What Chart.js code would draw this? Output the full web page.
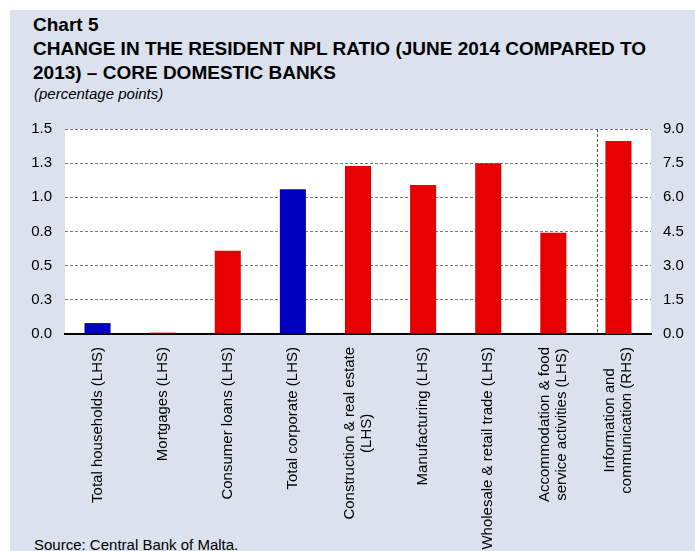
<!DOCTYPE html>
<html lang="en">
<head>
	<meta charset="UTF-8">
	<title>Chart 5 - Change in the resident NPL ratio</title>
	<style>
		body { margin: 0; background: #fff; font-family: "Liberation Sans", Arial, sans-serif; color: #000; }
		#panel { position: absolute; left: 10px; top: 10px; width: 685px; height: 541px; background: #dbe2ee; }
		.title { position: absolute; left: 33px; top: 13px; font-size: 19px; font-weight: bold; line-height: 24px; white-space: nowrap; }
		.subtitle { position: absolute; left: 34px; top: 85px; font-size: 15px; font-style: italic; line-height: 18px; }
		.source { position: absolute; left: 34px; top: 536px; font-size: 15px; line-height: 18px; white-space: nowrap; }
		#myChart { position: absolute; left: 0; top: 0; }
	</style>
</head>
<body>
	<div id="panel"></div>
	<div class="title">Chart 5<br>CHANGE IN THE RESIDENT NPL RATIO (JUNE 2014 COMPARED TO<br>2013) &ndash; CORE DOMESTIC BANKS</div>
	<div class="subtitle">(percentage points)</div>
	<div class="source">Source: Central Bank of Malta.</div>

	<canvas id="myChart" width="695" height="551"></canvas>

	<script src="https://cdn.jsdelivr.net/npm/chart.js"></script>
	<script>
		// ---------------- data ----------------
		const categories = [
			['Total households (LHS)'],
			['Mortgages (LHS)'],
			['Consumer loans (LHS)'],
			['Total corporate (LHS)'],
			['Construction & real estate', '(LHS)'],
			['Manufacturing (LHS)'],
			['Wholesale & retail trade (LHS)'],
			['Accommodation & food', 'service activities (LHS)'],
			['Information and', 'communication (RHS)']
		];
		// left hand scale series
		const lhsValues = [0.08, 0.01, 0.61, 1.06, 1.23, 1.09, 1.25, 0.74, null];
		// right hand scale series (only the last category)
		const rhsValues = [null, null, null, null, null, null, null, null, 8.47];

		const lhsTickLabels = ['0.0', '0.3', '0.5', '0.8', '1.0', '1.3', '1.5'];
		const rhsTickLabels = ['0.0', '1.5', '3.0', '4.5', '6.0', '7.5', '9.0'];

		// ---------------- styles ----------------
		const RED = '#e60000';
		const BLUE = '#0000c0';
		const barColors = [BLUE, RED, RED, BLUE, RED, RED, RED, RED, RED];
		const FONT = '"Liberation Sans", Arial, sans-serif';
		const dividerAt = 7.67; // dashed separator between LHS and RHS bars (category units)

		// white plot background
		const plotBg = {
			id: 'plotBg',
			beforeDraw(chart) {
				const { ctx, chartArea: a } = chart;
				ctx.save();
				ctx.fillStyle = '#fff';
				ctx.fillRect(a.left, a.top, a.right - a.left, a.bottom - a.top);
				ctx.restore();
			}
		};

		// vertical dashed separator
		const divider = {
			id: 'divider',
			beforeDatasetsDraw(chart) {
				const { ctx, chartArea: a } = chart;
				const x = Math.round(chart.scales.x.getPixelForValue(dividerAt)) + 0.5;
				ctx.save();
				ctx.strokeStyle = '#555';
				ctx.lineWidth = 1;
				ctx.setLineDash([3, 2]);
				ctx.beginPath();
				ctx.moveTo(x, a.top);
				ctx.lineTo(x, a.bottom);
				ctx.stroke();
				ctx.restore();
			}
		};

		// rotated category labels, lines centred on each other
		const xLabels = {
			id: 'xLabels',
			afterDraw(chart) {
				const { ctx, chartArea: a } = chart;
				const xs = chart.scales.x;
				ctx.save();
				ctx.font = '15px ' + FONT;
				ctx.fillStyle = '#000';
				ctx.textAlign = 'center';
				ctx.textBaseline = 'middle';
				categories.forEach((lines, i) => {
					const px = xs.getPixelForValue(i);
					const w = Math.max(...lines.map(l => ctx.measureText(l).width));
					const cy = a.bottom + 13 + w / 2;
					lines.forEach((line, j) => {
						const cx = px + (j - (lines.length - 1) / 2) * 17;
						ctx.save();
						ctx.translate(cx, cy);
						ctx.rotate(-Math.PI / 2);
						ctx.fillText(line, 0, 0);
						ctx.restore();
					});
				});
				ctx.restore();
			}
		};

		const config = {
			type: 'bar',
			data: {
				labels: categories,
				datasets: [
					{
						label: 'LHS',
						data: lhsValues,
						yAxisID: 'y',
						backgroundColor: barColors,
						categoryPercentage: 1,
						barPercentage: 0.4
					},
					{
						label: 'RHS',
						data: rhsValues,
						yAxisID: 'y2',
						backgroundColor: barColors,
						categoryPercentage: 1,
						barPercentage: 0.4
					}
				]
			},
			options: {
				responsive: false,
				animation: false,
				grouped: false,
				layout: { padding: { top: 129, left: 0, right: 0, bottom: 0 } },
				plugins: {
					legend: { display: false },
					title: { display: false },
					tooltip: { enabled: false }
				},
				scales: {
					x: {
						grid: { display: false },
						border: { display: true, color: '#000', width: 2 },
						ticks: { display: false },
						afterFit: (s) => { s.height = 551 - 334; }
					},
					y: {
						position: 'left',
						min: 0,
						max: 1.5,
						grid: {
							drawTicks: false,
							color: (c) => (c.tick && c.tick.value === 0) ? 'rgba(0,0,0,0)' : '#777',
							lineWidth: 1
						},
						border: { display: false, dash: [3, 2] },
						ticks: {
							stepSize: 0.25,
							padding: 13,
							color: '#000',
							font: { family: FONT, size: 15 },
							callback: (v, i) => lhsTickLabels[i]
						},
						afterFit: (s) => { s.width = 65; }
					},
					y2: {
						position: 'right',
						min: 0,
						max: 9,
						grid: { display: false, drawTicks: false },
						border: { display: false },
						ticks: {
							stepSize: 1.5,
							padding: 12,
							color: '#000',
							font: { family: FONT, size: 15 },
							callback: (v, i) => rhsTickLabels[i]
						},
						afterFit: (s) => { s.width = 695 - 651; }
					}
				}
			},
			plugins: [plotBg, divider, xLabels]
		};

		const ctx = document.getElementById('myChart').getContext('2d');
		const resultChart = new Chart(ctx, config);
	</script>
</body>
</html>
